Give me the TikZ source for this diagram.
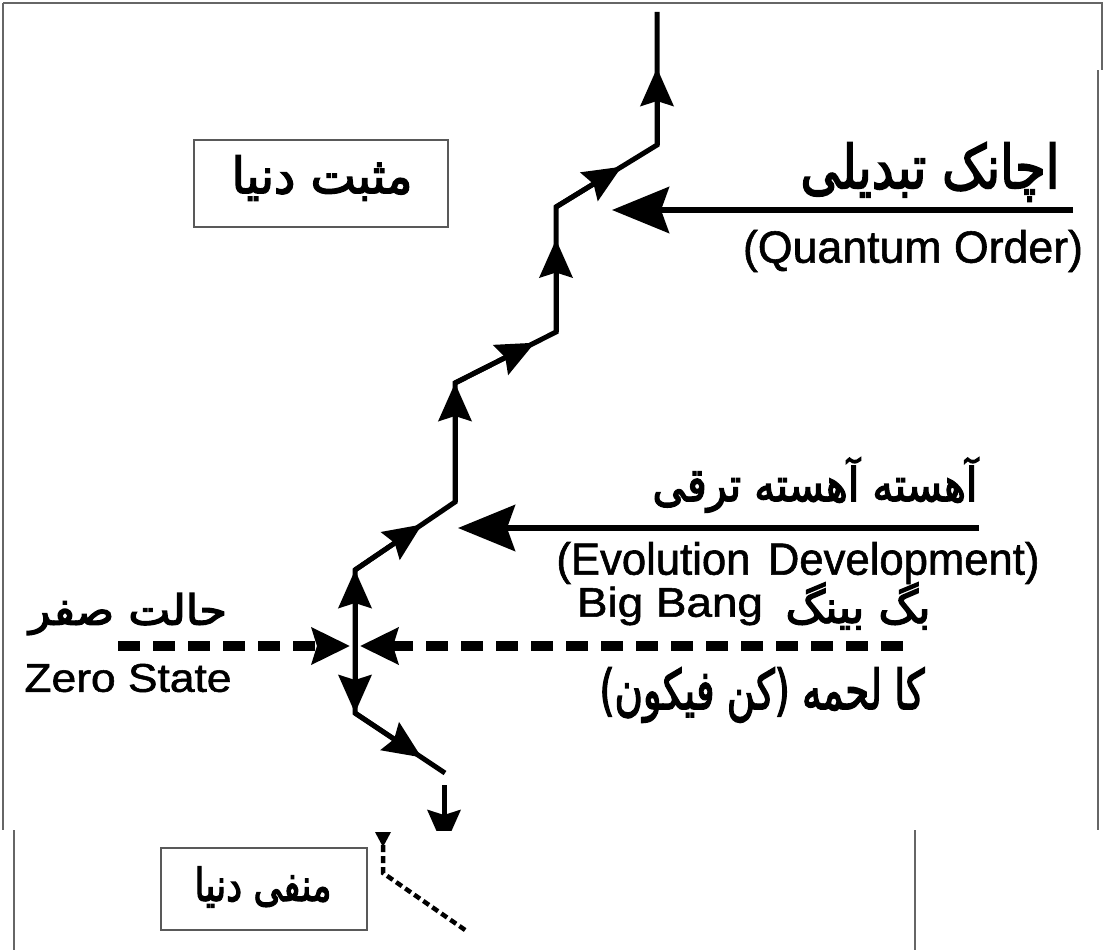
\documentclass[tikz,border=0pt]{standalone}
\usepackage{fontspec}
\usepackage{graphicx}
\usetikzlibrary{arrows.meta,calc}
\setmainfont{Liberation Sans}[FakeBold=1.3]
\newfontfamily\urdu[Script=Arabic,FakeBold=3]{DejaVu Sans}
\TeXXeTstate=1
\newcommand\ur[1]{{\urdu\beginR #1\endR}}
\newcommand\fitbox[3]{\resizebox*{#1}{#2}{#3}}
\tikzset{
  pth/.style={line width=5pt, line join=miter},
  tipA/.style={-{Stealth[length=38pt,width=33pt,inset=5pt]}},
  bigarrow/.style={line width=6pt,-{Stealth[length=57pt,width=46pt,inset=8pt]}},
  framel/.style={draw=black!60, line width=1.5pt},
  boxed/.style={draw=black!65, line width=1.5pt, fill=none},
  dsh/.style={line width=10pt, dash pattern=on 22pt off 13pt},
  dtip/.style={-{Stealth[length=38pt,width=36pt,inset=5pt]}},
  txt/.style={inner sep=0pt, outer sep=0pt},
}
\begin{document}
\begin{tikzpicture}[x=1pt,y=-1pt]
\useasboundingbox (0,0) rectangle (1105,950);
% frame
\draw[framel] (3,3) -- (1103,3);
\draw[framel] (3,3) -- (3,830);
\draw[framel] (1102,3) -- (1102,70);
\draw[framel] (1098,70) -- (1098,830);
\draw[framel] (14,830) -- (14,950);
\draw[framel] (915,830) -- (915,950);
% boxes
\draw[boxed] (194,140) rectangle (448,227);
\node[txt] (pos) at (322,178) {\fitbox{181pt}{45pt}{\ur{مثبت دنیا}}};
\draw[boxed] (161,848) rectangle (367,930);
\node[txt] (neg) at (263,887) {\fitbox{137pt}{41pt}{\ur{منفی دنیا}}};
% main path
\coordinate (p0) at (657,12);
\coordinate (p1) at (657,145);
\coordinate (p2) at (556,207);
\coordinate (p3) at (556,332);
\coordinate (p4) at (455,383);
\coordinate (p5) at (455,502);
\coordinate (p6) at (355,570);
\coordinate (p7) at (355,713);
\coordinate (p8) at (445,773);
\coordinate (pm) at (355,646);
\draw[pth] (p0) -- (p1) -- (p2) -- (p3) -- (p4) -- (p5) -- (p6) -- (p7) -- (p8);
\draw[pth,tipA] (p1) -- (657,68);
\draw[pth,tipA] (p2) -- ($(p2)!0.65!(p1)$);
\draw[pth,tipA] (p3) -- ($(p3)!0.74!(p2)$);
\draw[pth,tipA] (p4) -- ($(p4)!0.79!(p3)$);
\draw[pth,tipA] (p5) -- (p4);
\draw[pth,tipA] (p6) -- ($(p6)!0.67!(p5)$);
\draw[pth,tipA] (pm) -- (p6);
\draw[pth,tipA] (pm) -- (p7);
\draw[pth,tipA] (p7) -- ($(p7)!0.74!(p8)$);
\begin{scope}
\clip (0,0) rectangle (1105,830);
\coordinate (p9) at (444,785);
\coordinate (p10) at (444,848);
\draw[pth,tipA] (p9) -- (p10);
\end{scope}
% dotted bottom line
\fill (375,832) -- (391,832) -- (383,847) -- cycle;
\coordinate (d1) at (383,845);
\coordinate (d2) at (383,873);
\coordinate (d3) at (468,932);
\draw[line width=4.5pt, dash pattern=on 7pt off 4pt] (d1) -- (d2) -- (d3);
% dashed zero line
\coordinate (zl) at (118,646);
\coordinate (zr) at (903,646);
\draw[dsh,dtip] (zl) -- (350,646);
\draw[dsh,dtip] (zr) -- (360,646);
% horizontal arrows
\coordinate (qs) at (1073,210);
\coordinate (es) at (979,528);
\draw[bigarrow] (qs) -- (612,210);
\draw[bigarrow] (es) -- (458,528);
% texts
\node[txt] (qu) at (930,172) {\fitbox{259pt}{59pt}{\ur{اچانک تبدیلی}}};
\node[txt] (qe) at (913,251) {\fitbox{340pt}{42pt}{(Quantum Order)}};
\node[txt] (eu) at (815,485) {\fitbox{325pt}{55pt}{\ur{آهسته آهسته ترقی}}};
\node[txt] (ee) at (798,563) {\fitbox{483pt}{42pt}{(Evolution\hspace{0.4em}Development)}};
\node[txt] (bb) at (670,606) {\resizebox{186pt}{30pt}{Big Bang}};
\node[txt] (bu) at (858,606) {\fitbox{145pt}{47pt}{\ur{بگ بینگ}}};
\node[txt] (ku) at (762,695) {\fitbox{325pt}{55pt}{\ur{کا لحمه (کن فیکون)}}};
\node[txt] (zu) at (128,614) {\fitbox{198pt}{42pt}{\ur{حالت صفر}}};
\node[txt] (ze) at (128,678) {\resizebox{207pt}{28pt}{Zero State}};
\end{tikzpicture}
\end{document}
